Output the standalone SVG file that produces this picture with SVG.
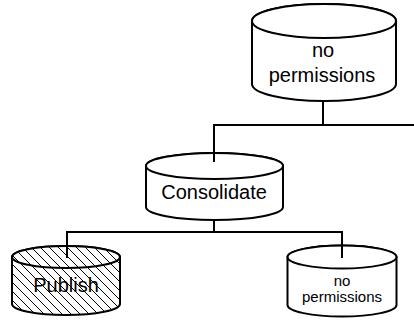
<svg xmlns="http://www.w3.org/2000/svg" width="414" height="321" viewBox="0 0 414 321">
<style>
.cyl{fill:#fff;stroke:#000;stroke-width:2}
.hat{fill:url(#hatch);stroke:#000;stroke-width:2}
.lbl{font-family:"Liberation Sans",Arial,sans-serif;fill:#000;text-anchor:middle}
.conn{fill:none;stroke:#000;stroke-width:2}
</style>
<defs>
<pattern id="hatch" patternUnits="userSpaceOnUse" width="9" height="9">
<rect width="9" height="9" fill="#fff"/>
<path d="M0,0 L9,9 M-3,6 L3,12 M6,-3 L12,3" stroke="#000" stroke-width="1"/>
</pattern>
</defs>
<g id="node-top">
<path class="cyl" d="M252,21 L252,84 A72,17 0 0 0 396,84 L396,21 A72,17 0 0 0 252,21 Z"/>
<ellipse class="cyl" cx="324" cy="21" rx="72" ry="17"/>
<text class="lbl" x="323" y="57" font-size="20">no</text>
<text class="lbl" x="322" y="82" font-size="20">permissions</text>
</g>
<g id="node-consolidate">
<path class="cyl" d="M146,166 L146,207 A68.5,13 0 0 0 283,207 L283,166 A68.5,13 0 0 0 146,166 Z"/>
<ellipse class="cyl" cx="214.5" cy="166" rx="68.5" ry="13"/>
<text class="lbl" x="214" y="199" font-size="20">Consolidate</text>
</g>
<g id="node-publish">
<path class="hat" d="M12,257 L12,304 A54,11 0 0 0 120,304 L120,257 A54,11 0 0 0 12,257 Z"/>
<ellipse class="hat" cx="66" cy="257" rx="54" ry="11"/>
<text class="lbl" x="66" y="292" font-size="20">Publish</text>
</g>
<g id="node-noperm2">
<path class="cyl" d="M287.5,257 L287.5,305 A54.5,11.5 0 0 0 396.5,305 L396.5,257 A54.5,11.5 0 0 0 287.5,257 Z"/>
<ellipse class="cyl" cx="342" cy="257" rx="54.5" ry="11.5"/>
<text class="lbl" x="342" y="286" font-size="15">no</text>
<text class="lbl" x="342" y="302" font-size="15">permissions</text>
</g>
<g id="connectors">
<path class="conn" d="M323,101 V125"/>
<path class="conn" d="M414,125 H214 V162"/>
<path class="conn" d="M214,220 V232"/>
<path class="conn" d="M67,258 V232 H342 V258"/>
</g>
</svg>
